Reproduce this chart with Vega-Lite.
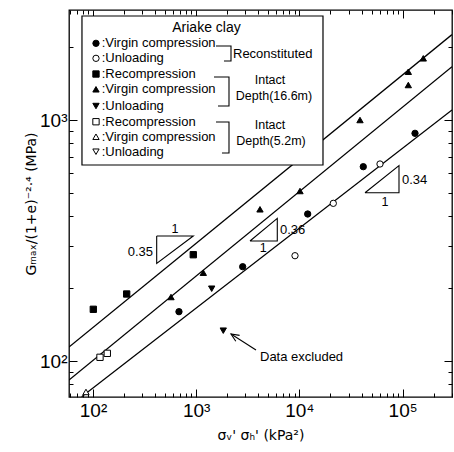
{
  "$schema": "https://vega.github.io/schema/vega-lite/v6.json",
  "width": 383,
  "height": 387,
  "autosize": {"type": "none"},
  "padding": {"left": 69, "top": 10, "right": 2, "bottom": 55},
  "background": "white",
  "config": {
    "view": {"stroke": "black", "strokeWidth": 1.3},
    "font": "Liberation Sans",
    "axis": {"domain": false, "grid": false, "tickColor": "black", "tickWidth": 1, "labelColor": "black", "titleColor": "black", "labelOverlap": false, "labelFlush": false}
  },
  "datasets": {
    "fits": [
      {"id": "a", "x": 58.55, "y": 114.3},
      {"id": "a", "x": 301100, "y": 2263},
      {"id": "b", "x": 58.55, "y": 83.4},
      {"id": "b", "x": 301100, "y": 1664},
      {"id": "c", "x": 77.7, "y": 71.1},
      {"id": "c", "x": 301100, "y": 1100}
    ],
    "box": [{"x": 78.2, "x2": 16930, "y": 650.7, "y2": 2701}],
    "paths": [
      {"id": "B1", "o": 1, "x": 1556, "y": 2028},
      {"id": "B1", "o": 2, "x": 2174, "y": 2028},
      {"id": "B1", "o": 3, "x": 2174, "y": 1757},
      {"id": "B1", "o": 4, "x": 1859, "y": 1757},
      {"id": "B2", "o": 1, "x": 1488, "y": 1508},
      {"id": "B2", "o": 2, "x": 2079, "y": 1508},
      {"id": "B2", "o": 3, "x": 2079, "y": 1143},
      {"id": "B2", "o": 4, "x": 1627, "y": 1143},
      {"id": "B3", "o": 1, "x": 1556, "y": 981},
      {"id": "B3", "o": 2, "x": 2079, "y": 981},
      {"id": "B3", "o": 3, "x": 2079, "y": 729.6},
      {"id": "B3", "o": 4, "x": 1778, "y": 729.6},
      {"id": "T1", "o": 1, "x": 414.2, "y": 330.1},
      {"id": "T1", "o": 2, "x": 937, "y": 330.1},
      {"id": "T1", "o": 3, "x": 414.2, "y": 254.3},
      {"id": "T1", "o": 4, "x": 414.2, "y": 330.1},
      {"id": "T2", "o": 1, "x": 3321, "y": 314.7},
      {"id": "T2", "o": 2, "x": 6107, "y": 314.7},
      {"id": "T2", "o": 3, "x": 6107, "y": 390.9},
      {"id": "T2", "o": 4, "x": 3321, "y": 314.7},
      {"id": "T3", "o": 1, "x": 43220, "y": 499.2},
      {"id": "T3", "o": 2, "x": 92280, "y": 499.2},
      {"id": "T3", "o": 3, "x": 92280, "y": 646.4},
      {"id": "T3", "o": 4, "x": 43220, "y": 499.2},
      {"id": "A1", "o": 1, "x": 3797, "y": 111.1},
      {"id": "A1", "o": 2, "x": 2174, "y": 129.4},
      {"id": "A2", "o": 1, "x": 2634, "y": 127.7},
      {"id": "A2", "o": 2, "x": 2174, "y": 129.4},
      {"id": "A2", "o": 3, "x": 2420, "y": 120.7}
    ],
    "pts": [
      {"g": "I16R", "x": 100.7, "y": 163.9},
      {"g": "I16R", "x": 212.1, "y": 189.7},
      {"g": "I16R", "x": 937, "y": 276.1},
      {"g": "I16V", "x": 570, "y": 184.3},
      {"g": "RV", "x": 681, "y": 160.2},
      {"g": "I16V", "x": 1172, "y": 232.5},
      {"g": "I16U", "x": 1413, "y": 199.5},
      {"g": "RV", "x": 2822, "y": 246.2},
      {"g": "I16V", "x": 4151, "y": 426.1},
      {"g": "I16U", "x": 1830, "y": 133.6},
      {"g": "RU", "x": 9066, "y": 273.5},
      {"g": "RV", "x": 12035, "y": 407.4},
      {"g": "I16V", "x": 10134, "y": 507.4},
      {"g": "I5R", "x": 116.9, "y": 103.6},
      {"g": "I5R", "x": 137.6, "y": 107.6},
      {"g": "I5V", "x": 85.5, "y": 74.4},
      {"g": "I16V", "x": 158700, "y": 1803},
      {"g": "I16V", "x": 113600, "y": 1586},
      {"g": "I16V", "x": 113600, "y": 1397},
      {"g": "I16V", "x": 38660, "y": 1000},
      {"g": "RV", "x": 131900, "y": 880.7},
      {"g": "RV", "x": 41600, "y": 640.2},
      {"g": "RU", "x": 60390, "y": 656.9},
      {"g": "RU", "x": 21310, "y": 451.1}
    ],
    "leg": [
      {"g": "RV", "label": ":Virgin compression", "x": 106.9, "lx": 121.4, "y": 2081},
      {"g": "RU", "label": ":Unloading", "x": 106.9, "lx": 121.4, "y": 1803},
      {"g": "I16R", "label": ":Recompression", "x": 106.9, "lx": 121.4, "y": 1552},
      {"g": "I16V", "label": ":Virgin compression", "x": 106.9, "lx": 121.4, "y": 1341},
      {"g": "I16U", "label": ":Unloading", "x": 106.9, "lx": 121.4, "y": 1143},
      {"g": "I5R", "label": ":Recompression", "x": 106.9, "lx": 121.4, "y": 983.8},
      {"g": "I5V", "label": ":Virgin compression", "x": 106.9, "lx": 121.4, "y": 852.4},
      {"g": "I5U", "label": ":Unloading", "x": 106.9, "lx": 121.4, "y": 738.7}
    ],
    "textL": [
      {"t": "Reconstituted", "x": 2273, "y": 1879},
      {"t": "0.36", "x": 6486, "y": 349.6},
      {"t": "0.34", "x": 98670, "y": 563.6},
      {"t": "Data excluded", "x": 4151, "y": 103.9}
    ],
    "textC": [
      {"t": "Intact", "x": 5189, "y": 1466},
      {"t": "Depth(16.6m)", "x": 5674, "y": 1258},
      {"t": "Intact", "x": 5189, "y": 953.5},
      {"t": "Depth(5.2m)", "x": 5306, "y": 818.3},
      {"t": "1", "x": 623, "y": 352.9},
      {"t": "1", "x": 4469, "y": 293.5},
      {"t": "1", "x": 67520, "y": 458.1}
    ],
    "textR": [
      {"t": "0.35", "x": 381.4, "y": 284.1}
    ],
    "title": [
      {"t": "Ariake clay", "x": 1258, "y": 2408}
    ]
  },
  "resolve": {"axis": {"x": "independent", "y": "independent"}},
  "layer": [
    {
      "data": {"name": "fits"},
      "mark": {"type": "line", "color": "black", "strokeWidth": 1.3, "clip": true},
      "encoding": {
        "x": {"field": "x", "type": "quantitative", "scale": {"type": "log", "domain": [58.55, 301100], "nice": false},
          "axis": {"orient": "bottom",
            "values": [60,70,80,90,100,200,300,400,500,600,700,800,900,1000,2000,3000,4000,5000,6000,7000,8000,9000,10000,20000,30000,40000,50000,60000,70000,80000,90000,100000,200000,300000],
            "tickSize": {"condition": {"test": "indexof([100,1000,10000,100000], datum.value) >= 0", "value": -8}, "value": -4},
            "labelExpr": "datum.value == 100 ? '10²' : datum.value == 1000 ? '10³' : datum.value == 10000 ? '10⁴' : datum.value == 100000 ? '10⁵' : ''",
            "labelFontSize": 19, "labelPadding": 12,
            "title": "σᵥ' σₕ' (kPa²)", "titleFont": "DejaVu Sans", "titleFontSize": 14, "titleFontWeight": "normal", "titlePadding": 4}},
        "y": {"field": "y", "type": "quantitative", "scale": {"type": "log", "domain": [70.9, 2861], "nice": false},
          "axis": {"orient": "left",
            "values": [80,90,100,200,300,400,500,600,700,800,900,1000,2000],
            "tickSize": {"condition": {"test": "indexof([100,1000], datum.value) >= 0", "value": -8}, "value": -4},
            "labelExpr": "datum.value == 100 ? '10²' : datum.value == 1000 ? '10³' : ''",
            "labelFontSize": 19, "labelPadding": 10,
            "title": "Gₘₐₓ/(1+e)⁻²·⁴ (MPa)", "titleFont": "DejaVu Sans", "titleFontSize": 14, "titleFontWeight": "normal", "titlePadding": 1}},
        "detail": {"field": "id"}
      }
    },
    {
      "data": {"name": "box"},
      "mark": {"type": "rect", "fill": "white", "stroke": "black", "strokeWidth": 1.2},
      "encoding": {
        "x": {"field": "x", "type": "quantitative", "scale": {"type": "log", "domain": [58.55, 301100], "nice": false},
          "axis": {"orient": "top", "values": [60,70,80,90,100,200,300,400,500,600,700,800,900,1000,2000,3000,4000,5000,6000,7000,8000,9000,10000,20000,30000,40000,50000,60000,70000,80000,90000,100000,200000,300000],
            "tickSize": {"condition": {"test": "indexof([100,1000,10000,100000], datum.value) >= 0", "value": -8}, "value": -4},
            "labels": false, "title": null}},
        "x2": {"field": "x2"},
        "y": {"field": "y", "type": "quantitative", "scale": {"type": "log", "domain": [70.9, 2861], "nice": false},
          "axis": {"orient": "right", "values": [80,90,100,200,300,400,500,600,700,800,900,1000,2000],
            "tickSize": {"condition": {"test": "indexof([100,1000], datum.value) >= 0", "value": -8}, "value": -4},
            "labels": false, "title": null}},
        "y2": {"field": "y2"}
      }
    },
    {
      "data": {"name": "paths"},
      "mark": {"type": "line", "color": "black", "strokeWidth": 1.1},
      "encoding": {
        "x": {"field": "x", "type": "quantitative", "scale": {"type": "log", "domain": [58.55, 301100], "nice": false}, "axis": null},
        "y": {"field": "y", "type": "quantitative", "scale": {"type": "log", "domain": [70.9, 2861], "nice": false}, "axis": null},
        "detail": {"field": "id"},
        "order": {"field": "o"}
      }
    },
    {
      "data": {"name": "pts"},
      "mark": {"type": "point", "filled": true, "stroke": "black", "strokeWidth": 1, "size": 40, "opacity": 1},
      "encoding": {
        "x": {"field": "x", "type": "quantitative", "scale": {"type": "log", "domain": [58.55, 301100], "nice": false}, "axis": null},
        "y": {"field": "y", "type": "quantitative", "scale": {"type": "log", "domain": [70.9, 2861], "nice": false}, "axis": null},
        "shape": {"field": "g", "type": "nominal", "legend": null,
          "scale": {"domain": ["RV","RU","I16R","I16V","I16U","I5R","I5V","I5U"], "range": ["circle","circle","square","triangle-up","triangle-down","square","triangle-up","triangle-down"]}},
        "fill": {"field": "g", "type": "nominal", "legend": null,
          "scale": {"domain": ["RV","RU","I16R","I16V","I16U","I5R","I5V","I5U"], "range": ["black","white","black","black","black","white","white","white"]}}
      }
    },
    {
      "data": {"name": "leg"},
      "layer": [
        {
          "mark": {"type": "point", "filled": true, "stroke": "black", "strokeWidth": 1, "size": 40, "opacity": 1},
          "encoding": {
            "x": {"field": "x", "type": "quantitative", "scale": {"type": "log", "domain": [58.55, 301100], "nice": false}, "axis": null},
            "y": {"field": "y", "type": "quantitative", "scale": {"type": "log", "domain": [70.9, 2861], "nice": false}, "axis": null},
            "shape": {"field": "g", "type": "nominal", "legend": null},
            "fill": {"field": "g", "type": "nominal", "legend": null}
          }
        },
        {
          "mark": {"type": "text", "align": "left", "baseline": "middle", "fontSize": 13, "color": "black"},
          "encoding": {
            "x": {"field": "lx", "type": "quantitative", "scale": {"type": "log", "domain": [58.55, 301100], "nice": false}, "axis": null},
            "y": {"field": "y", "type": "quantitative", "scale": {"type": "log", "domain": [70.9, 2861], "nice": false}, "axis": null},
            "text": {"field": "label"}
          }
        }
      ]
    },
    {
      "data": {"name": "textL"},
      "mark": {"type": "text", "align": "left", "baseline": "middle", "fontSize": 13, "color": "black"},
      "encoding": {
        "x": {"field": "x", "type": "quantitative", "scale": {"type": "log", "domain": [58.55, 301100], "nice": false}, "axis": null},
        "y": {"field": "y", "type": "quantitative", "scale": {"type": "log", "domain": [70.9, 2861], "nice": false}, "axis": null},
        "text": {"field": "t"}
      }
    },
    {
      "data": {"name": "textC"},
      "mark": {"type": "text", "align": "center", "baseline": "middle", "fontSize": 12.5, "color": "black"},
      "encoding": {
        "x": {"field": "x", "type": "quantitative", "scale": {"type": "log", "domain": [58.55, 301100], "nice": false}, "axis": null},
        "y": {"field": "y", "type": "quantitative", "scale": {"type": "log", "domain": [70.9, 2861], "nice": false}, "axis": null},
        "text": {"field": "t"}
      }
    },
    {
      "data": {"name": "textR"},
      "mark": {"type": "text", "align": "right", "baseline": "middle", "fontSize": 13, "color": "black"},
      "encoding": {
        "x": {"field": "x", "type": "quantitative", "scale": {"type": "log", "domain": [58.55, 301100], "nice": false}, "axis": null},
        "y": {"field": "y", "type": "quantitative", "scale": {"type": "log", "domain": [70.9, 2861], "nice": false}, "axis": null},
        "text": {"field": "t"}
      }
    },
    {
      "data": {"name": "title"},
      "mark": {"type": "text", "align": "center", "baseline": "middle", "fontSize": 14, "color": "black"},
      "encoding": {
        "x": {"field": "x", "type": "quantitative", "scale": {"type": "log", "domain": [58.55, 301100], "nice": false}, "axis": null},
        "y": {"field": "y", "type": "quantitative", "scale": {"type": "log", "domain": [70.9, 2861], "nice": false}, "axis": null},
        "text": {"field": "t"}
      }
    }
  ]
}
